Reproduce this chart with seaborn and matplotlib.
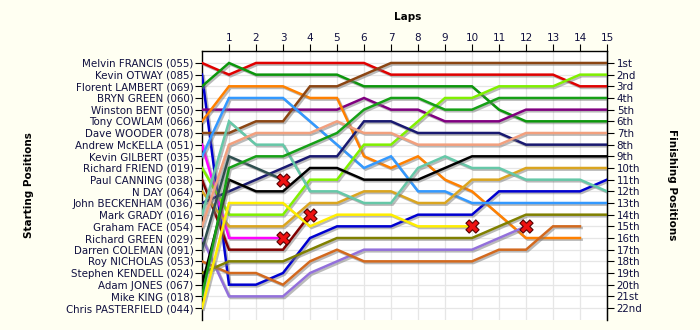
import matplotlib
matplotlib.use("Agg")
import matplotlib.pyplot as plt
import matplotlib.patheffects as pe
import pandas as pd
import seaborn as sns

# ---- data -------------------------------------------------------------
drivers = ["Melvin FRANCIS (055)", "Kevin OTWAY (085)", "Florent LAMBERT (069)",
           "BRYN GREEN (060)", "Winston BENT (050)", "Tony COWLAM (066)",
           "Dave WOODER (078)", "Andrew McKELLA (051)", "Kevin GILBERT (035)",
           "Richard FRIEND (019)", "Paul CANNING (038)", "N DAY (064)",
           "John BECKENHAM (036)", "Mark GRADY (016)", "Graham FACE (054)",
           "Richard GREEN (029)", "Darren COLEMAN (091)", "Roy NICHOLAS (053)",
           "Stephen KENDELL (024)", "Adam JONES (067)", "Mike KING (018)",
           "Chris PASTERFIELD (044)"]

finish_labels = ["1st", "2nd", "3rd", "4th", "5th", "6th", "7th", "8th", "9th",
                 "10th", "11th", "12th", "13th", "14th", "15th", "16th", "17th",
                 "18th", "19th", "20th", "21st", "22nd"]

lap_labels = [str(i) for i in range(1, 16)]

# positions from lap 0 (grid) onwards
pos_francis   = [1, 2, 1, 1, 1, 1, 1, 2, 2, 2, 2, 2, 2, 2, 3, 3]
pos_otway     = [2, 20, 20, 19, 16, 15, 15, 15, 14, 14, 14, 12, 12, 12, 12, 11]
pos_lambert   = [3, 1, 2, 2, 2, 2, 3, 3, 3, 3, 3, 5, 6, 6, 6, 6]
pos_bryn      = []
pos_bent      = [5, 5, 5, 5, 5, 5, 4, 5, 5, 6, 6, 6, 5, 5, 5, 5]
pos_cowlam    = [6, 3, 3, 3, 4, 4, 9, 10, 9, 11, 12, 14, 16, 16, 16]
pos_wooder    = [7, 7, 6, 6, 3, 3, 2, 1, 1, 1, 1, 1, 1, 1, 1, 1]
pos_mckella   = [8, 16, 16, 16]
pos_gilbert   = [9, 4, 4, 4, 6, 8, 10, 9, 12, 12, 13, 13, 13, 13, 13, 13]
pos_friend    = [10, 14, 14, 14, 11, 11, 8, 8, 6, 4, 4, 3, 3, 3, 2, 2]
pos_canning   = [11, 17, 17, 17, 14]
pos_day       = [12, 15, 15, 15, 13, 13, 12, 12, 13, 13, 11, 11, 10, 10, 10, 10]
pos_beckenham = [13, 12, 11, 10, 9, 9, 6, 6, 7, 7, 7, 7, 8, 8, 8, 8]
pos_grady     = [14, 6, 8, 8, 12, 12, 13, 13, 10, 9, 10, 10, 11, 11, 11, 12]
pos_face      = [15, 8, 7, 7, 7, 6, 7, 7, 8, 8, 8, 8, 7, 7, 7, 7]
pos_rgreen    = [16, 21, 21, 21, 19, 18, 17, 17, 17, 17, 17, 16, 15]
pos_coleman   = [17, 9, 10, 11]
pos_nicholas  = [18, 19, 19, 20, 18, 17, 18, 18, 18, 18, 18, 17, 17, 15, 15]
pos_kendell   = [19, 18, 18, 18, 17, 16, 16, 16, 16, 16, 16, 15, 14, 14, 14, 14]
pos_jones     = [20, 11, 12, 12, 10, 10, 11, 11, 11, 10, 9, 9, 9, 9, 9, 9]
pos_king      = [21, 10, 9, 9, 8, 7, 5, 4, 4, 5, 5, 4, 4, 4, 4, 4]
pos_pasterfield = [22, 13, 13, 13, 15, 14, 14, 14, 15, 15, 15]

positions = [pos_francis, pos_otway, pos_lambert, pos_bryn, pos_bent, pos_cowlam,
             pos_wooder, pos_mckella, pos_gilbert, pos_friend, pos_canning, pos_day,
             pos_beckenham, pos_grady, pos_face, pos_rgreen, pos_coleman,
             pos_nicholas, pos_kendell, pos_jones, pos_king, pos_pasterfield]

retired = ["Andrew McKELLA (051)", "Paul CANNING (038)", "Darren COLEMAN (091)",
           "Richard GREEN (029)", "Chris PASTERFIELD (044)"]

colors = ["#e00000", "#0000d0", "#0c960c", "#999999", "#800080", "#ff8000",
          "#8b4513", "#ff00ff", "#3399ff", "#80f000", "#800000", "#daa520",
          "#191970", "#66c8a8", "#f2a07e", "#9370db", "#2f4f4f", "#d2691e",
          "#808000", "#000000", "#16a016", "#ffee00"]

# ---- long table ---------------------------------------------------------
rows = []
for name, plist in zip(drivers, positions):
    for lap, p in enumerate(plist):
        rows.append((name, lap, p))
df = pd.DataFrame(rows, columns=["driver", "lap", "pos"])
ret_df = df.groupby("driver").tail(1)
ret_df = ret_df[ret_df["driver"].isin(retired)]

palette = {d: c for d, c in zip(drivers, colors)}
order = [d for d, p in zip(drivers, positions) if len(p) > 0]

# ---- figure ------------------------------------------------------------
bg = "#fffff2"
txt = "#101040"
fig = plt.figure(figsize=(7, 3.3), dpi=100, facecolor=bg)
ax = fig.add_axes([202 / 700, 1 - 319.7 / 330, 405 / 700, 268.4 / 330])
ax.set_facecolor("white")

sns.lineplot(data=df, x="lap", y="pos", hue="driver", hue_order=order,
             palette=palette, estimator=None, sort=False, legend=False,
             linewidth=1.8, ax=ax, zorder=3)
for ln in ax.lines:
    ln.set_path_effects([pe.SimpleLineShadow(offset=(1.2, -1.2),
                                             shadow_color="#777777", alpha=0.5),
                         pe.Normal()])
    ln.set_solid_joinstyle("miter")

sns.scatterplot(data=ret_df, x="lap", y="pos", marker="X", s=90,
                color="#ee1111", edgecolor="#550000", linewidth=0.8,
                ax=ax, zorder=5, legend=False)

ax.set_xlim(0, 15)
ax.set_ylim(23, 0)

# top axis: laps
ax.xaxis.tick_top()
ax.set_xticks(range(1, 16))
ax.set_xticklabels(lap_labels, fontsize=7.5, color=txt)
ax.tick_params(axis="x", direction="out", length=5, width=0.8, pad=1,
               colors="black", labelcolor=txt)

# left axis: starting positions
ax.set_yticks(range(1, 23))
ax.set_yticklabels(drivers, fontsize=7.4, color=txt)
ax.tick_params(axis="y", direction="out", length=5, width=0.8, pad=1,
               colors="black", labelcolor=txt)

ax.grid(True, color="#e6e6e6", linewidth=0.9, zorder=0)
ax.set_axisbelow(True)
ax.set_xlabel("")
ax.set_ylabel("")
ax.spines["bottom"].set_visible(False)
for s in ["left", "right", "top"]:
    ax.spines[s].set_linewidth(1)
    ax.spines[s].set_color("black")

# right axis: finishing positions
ax2 = ax.twinx()
ax2.set_ylim(23, 0)
ax2.set_yticks(range(1, 23))
ax2.set_yticklabels(finish_labels, fontsize=7.4, color=txt)
ax2.tick_params(axis="y", direction="out", length=5, width=0.8, pad=2,
                colors="black", labelcolor=txt)
for s in ["left", "top", "bottom"]:
    ax2.spines[s].set_visible(False)

fig.text(408 / 700, 1 - 17 / 330, "Laps", ha="center", va="center",
         fontsize=7.5, fontweight="bold", color="black")
fig.text(29 / 700, 1 - 185 / 330, "Starting Positions", ha="center", va="center",
         rotation=90, fontsize=7.5, fontweight="bold", color="black")
fig.text(672 / 700, 1 - 185 / 330, "Finishing Positions", ha="center", va="center",
         rotation=270, fontsize=7.5, fontweight="bold", color="black")

fig.savefig("out.png", dpi=100, facecolor=bg)
